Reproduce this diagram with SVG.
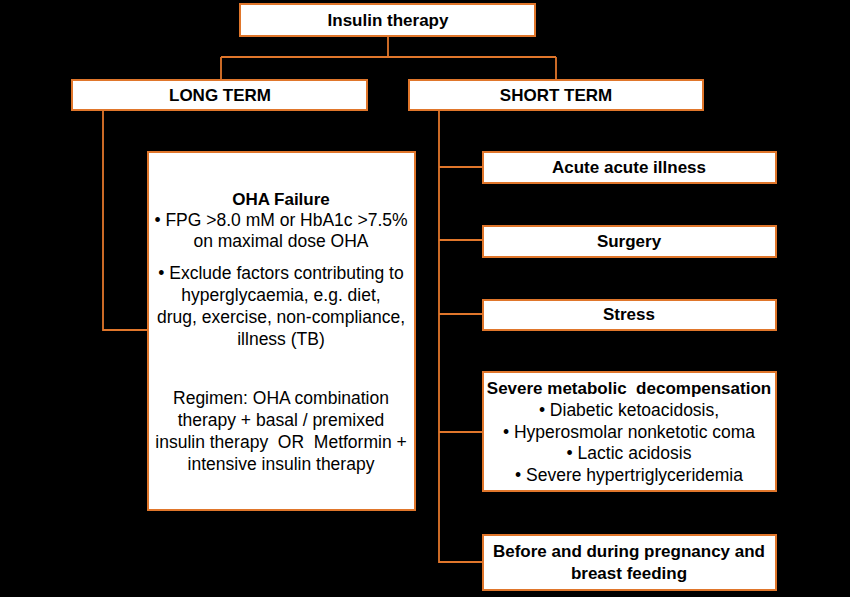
<svg xmlns="http://www.w3.org/2000/svg" width="850" height="597" viewBox="0 0 850 597">
<style>
.box{fill:#fff;stroke:#E0762B;stroke-width:2}
.ln{fill:none;stroke:#E0762B;stroke-width:1.8}
text{font-family:"Liberation Sans",Arial,sans-serif;font-size:17.5px;fill:#000;text-anchor:middle;white-space:pre}
.b{font-weight:bold;font-size:17px}
</style>
<rect width="850" height="597" fill="#000"/>
<g id="connectors">
<path class="ln" d="M388,36V57M221,57H556M221,57V80M556,57V80"/>
<path class="ln" d="M103,110V330H148"/>
<path class="ln" d="M439,110V562H483M439,167H483M439,240H483M439,314H483M439,432H483"/>
</g>
<g id="insulin"><rect class="box" x="240" y="4" width="295" height="32"/><text class="b" x="388" y="26">Insulin therapy</text></g>
<g id="long"><rect class="box" x="72" y="80" width="295" height="30"/><text class="b" x="220" y="101">LONG TERM</text></g>
<g id="short"><rect class="box" x="409" y="80" width="294" height="30"/><text class="b" x="556" y="101">SHORT TERM</text></g>
<g id="oha"><rect class="box" x="148" y="152" width="267" height="358"/>
<text class="b" x="281" y="205">OHA Failure</text>
<text x="281" y="226">• FPG &gt;8.0 mM or HbA1c &gt;7.5%</text>
<text x="281" y="247">on maximal dose OHA</text>
<text x="281" y="279">• Exclude factors contributing to</text>
<text x="281" y="301">hyperglycaemia, e.g. diet,</text>
<text x="281" y="323">drug, exercise, non-compliance,</text>
<text x="281" y="345">illness (TB)</text>
<text x="281" y="404">Regimen: OHA combination</text>
<text x="281" y="426">therapy + basal / premixed</text>
<text x="281" y="448" xml:space="preserve">insulin therapy  OR  Metformin +</text>
<text x="281" y="470">intensive insulin therapy</text>
</g>
<g id="acute"><rect class="box" x="483" y="152" width="293" height="31"/><text class="b" x="629" y="173">Acute acute illness</text></g>
<g id="surgery"><rect class="box" x="483" y="226" width="293" height="31"/><text class="b" x="629" y="247">Surgery</text></g>
<g id="stress"><rect class="box" x="483" y="300" width="293" height="30"/><text class="b" x="629" y="320">Stress</text></g>
<g id="severe"><rect class="box" x="483" y="372" width="293" height="119"/>
<text class="b" x="629" y="394" xml:space="preserve">Severe metabolic  decompensation</text>
<text x="629" y="416">• Diabetic ketoacidosis,</text>
<text x="629" y="438">• Hyperosmolar nonketotic coma</text>
<text x="629" y="459">• Lactic acidosis</text>
<text x="629" y="481">• Severe hypertriglyceridemia</text>
</g>
<g id="pregnancy"><rect class="box" x="483" y="535" width="293" height="55"/>
<text class="b" x="629" y="557">Before and during pregnancy and</text>
<text class="b" x="629" y="579">breast feeding</text>
</g>
</svg>
